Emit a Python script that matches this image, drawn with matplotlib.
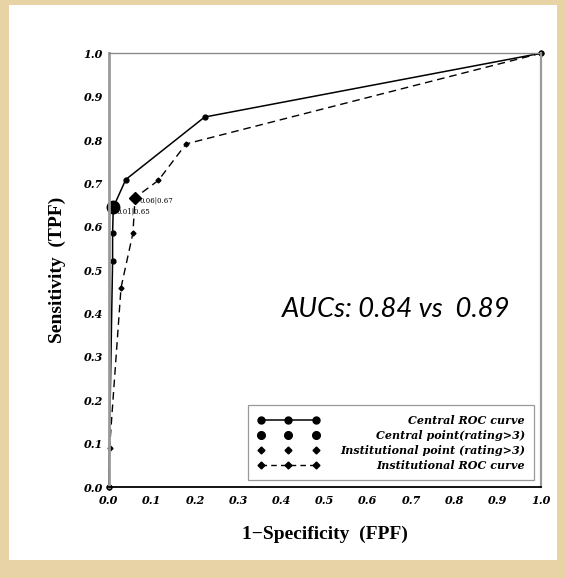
import matplotlib.pyplot as plt
from matplotlib.lines import Line2D
from matplotlib.patches import Rectangle

# ROC points
central_fpf = [0.0, 0.009, 0.009, 0.0106, 0.0396, 0.222, 1.0]
central_tpf = [0.0, 0.521, 0.585, 0.645, 0.709, 0.853, 1.0]
inst_fpf = [0.0, 0.002, 0.0285, 0.056, 0.061, 0.115, 0.179, 1.0]
inst_tpf = [0.0, 0.09, 0.4595, 0.585, 0.667, 0.707, 0.791, 1.0]

central_point = [0.0106, 0.645]
inst_point = [0.061, 0.667]
central_label = '0.01|0.65'
inst_label = '0.06|0.67'
auc_text = 'AUCs: 0.84 vs  0.89'

ticks = [0.0, 0.1, 0.2, 0.3, 0.4, 0.5, 0.6, 0.7, 0.8, 0.9, 1.0]
tick_labels = ['0.0', '0.1', '0.2', '0.3', '0.4', '0.5', '0.6', '0.7', '0.8', '0.9', '1.0']
legend_labels = ['Central ROC curve', 'Central point(rating>3)',
                 'Institutional point (rating>3)', 'Institutional ROC curve']

fig = plt.figure(figsize=(5.65, 5.78), dpi=100, facecolor='#e8d3a6')
fig.patches.append(Rectangle((9 / 565, 1 - 560 / 578), 548 / 565, 555 / 578,
                             transform=fig.transFigure, facecolor='white',
                             edgecolor='none', zorder=-10))
ax = fig.add_axes([0.1924, 0.1574, 0.7646, 0.7504])
ax.set_facecolor('white')

ax.plot(central_fpf, central_tpf, color='k', lw=1.1, marker='o', ms=3.5, clip_on=False)
ax.plot(inst_fpf, inst_tpf, color='k', lw=1.0, ls=(0, (5.5, 3.5)), marker='D', ms=2.5, clip_on=False)
ax.plot(central_point[0], central_point[1], 'o', color='k', ms=9, clip_on=False)
ax.plot(inst_point[0], inst_point[1], 'D', color='k', ms=6)

ax.text(central_point[0] + 0.008, central_point[1] - 0.009, central_label,
        family='DejaVu Serif', size=5, va='center')
ax.text(inst_point[0] + 0.01, inst_point[1] - 0.006, inst_label,
        family='DejaVu Serif', size=5, va='center')
ax.text(0.40, 0.393, auc_text, family='Lato', style='italic', size=19.7, va='baseline')

ax.set_xlim(0, 1)
ax.set_ylim(0, 1)
ax.set_xticks(ticks)
ax.set_xticklabels(tick_labels)
ax.set_yticks(ticks)
ax.set_yticklabels(tick_labels)
ax.tick_params(length=0, labelsize=8)
ax.tick_params(axis='x', pad=6)
ax.tick_params(axis='y', pad=4)
for lab in ax.get_xticklabels() + ax.get_yticklabels():
    lab.set_family('DejaVu Serif')
    lab.set_weight('bold')
    lab.set_style('italic')

ax.spines['left'].set_color('#9a9a9a')
ax.spines['left'].set_linewidth(2)
ax.spines['right'].set_color('#9a9a9a')
ax.spines['right'].set_linewidth(1.6)
ax.spines['top'].set_color('#8a8a8a')
ax.spines['top'].set_linewidth(1)
ax.spines['bottom'].set_color('k')
ax.spines['bottom'].set_linewidth(1.3)

ax.set_xlabel('1\u2212Specificity  (FPF)', family='Liberation Serif', weight='bold',
              size=14, labelpad=14)
ax.set_ylabel('Sensitivity  (TPF)', family='Liberation Serif', weight='bold',
              size=14, labelpad=13)

handles = [
    Line2D([], [], color='k', lw=1.1, marker='o', ms=5),
    Line2D([], [], ls='none', marker='o', ms=5.5, color='k'),
    Line2D([], [], ls='none', marker='D', ms=3.5, color='k'),
    Line2D([], [], color='k', lw=1.0, ls=(0, (4, 3)), marker='D', ms=3.5),
]
leg = ax.legend(handles, legend_labels, loc='lower right',
                bbox_to_anchor=(0.9854, 0.0161), borderaxespad=0,
                numpoints=3, handlelength=5.5, handletextpad=1.9,
                borderpad=0.85, labelspacing=0.36, fancybox=False,
                edgecolor='#999999', framealpha=1,
                prop=dict(family='DejaVu Serif', weight='bold', style='italic', size=8))
leg.get_frame().set_linewidth(0.9)

# push the legend texts over so they line up on the right
fig.canvas.draw()
r = fig.canvas.get_renderer()
widths = [t.get_window_extent(r).width for t in leg.get_texts()]
mw = max(widths)
column = leg._legend_handle_box.get_children()[0]
for item, w in zip(column.get_children(), widths):
    item.sep += (mw - w) * 72 / fig.dpi

fig.savefig('out.png', dpi=100, facecolor=fig.get_facecolor())
